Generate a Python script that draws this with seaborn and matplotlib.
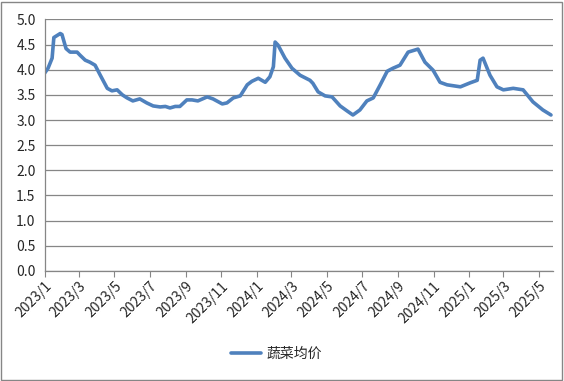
import pandas as pd
import numpy as np
import matplotlib
matplotlib.use('Agg')
import matplotlib.pyplot as plt
import matplotlib.dates as mdates
from matplotlib.patches import Rectangle
import seaborn as sns

# Datos (precio medio de verduras)
fechas = ['2023-01-01', '2023-01-07', '2023-01-14', '2023-01-17', '2023-01-28', '2023-01-31',
          '2023-02-07', '2023-02-14', '2023-02-26', '2023-03-03', '2023-03-12', '2023-03-20',
          '2023-03-29', '2023-04-07', '2023-04-19', '2023-04-27', '2023-05-06', '2023-05-15',
          '2023-05-23', '2023-06-02', '2023-06-14', '2023-06-26', '2023-07-07', '2023-07-19',
          '2023-07-28', '2023-08-05', '2023-08-14', '2023-08-22', '2023-09-03', '2023-09-12',
          '2023-09-22', '2023-10-08', '2023-10-18', '2023-11-03', '2023-11-11', '2023-11-22',
          '2023-12-04', '2023-12-16', '2023-12-24', '2024-01-04', '2024-01-16', '2024-01-24',
          '2024-01-30', '2024-02-02', '2024-02-07', '2024-02-19', '2024-03-02', '2024-03-16',
          '2024-04-02', '2024-04-07', '2024-04-16', '2024-04-28', '2024-05-10', '2024-05-24',
          '2024-06-05', '2024-06-15', '2024-06-27', '2024-07-09', '2024-07-20', '2024-08-01',
          '2024-08-13', '2024-08-23', '2024-09-04', '2024-09-18', '2024-10-05', '2024-10-17',
          '2024-10-31', '2024-11-12', '2024-11-24', '2024-12-17', '2025-01-03', '2025-01-15',
          '2025-01-20', '2025-01-25', '2025-02-06', '2025-02-18', '2025-03-01', '2025-03-18',
          '2025-04-04', '2025-04-21', '2025-05-08', '2025-05-22']
precio = [3.93, 4.03, 4.23, 4.64, 4.72, 4.70,
          4.42, 4.35, 4.35, 4.29, 4.19, 4.15,
          4.09, 3.89, 3.63, 3.58, 3.60, 3.50,
          3.44, 3.38, 3.42, 3.34, 3.28, 3.26,
          3.27, 3.24, 3.27, 3.27, 3.40, 3.40,
          3.38, 3.46, 3.42, 3.32, 3.34, 3.44,
          3.48, 3.70, 3.77, 3.83, 3.75, 3.86,
          4.06, 4.55, 4.49, 4.23, 4.03, 3.89,
          3.79, 3.73, 3.56, 3.48, 3.46, 3.28,
          3.18, 3.10, 3.20, 3.38, 3.44, 3.70,
          3.97, 4.03, 4.09, 4.35, 4.41, 4.15,
          3.99, 3.75, 3.70, 3.66, 3.74, 3.79,
          4.19, 4.23, 3.89, 3.66, 3.60, 3.63,
          3.60, 3.36, 3.20, 3.10]
serie = '蔬菜均价'

df = pd.DataFrame({'fecha': pd.to_datetime(fechas), serie: precio})

sns.set_style('white')
plt.rcParams['font.family'] = ['Noto Sans CJK SC', 'DejaVu Sans']

fig = plt.figure(figsize=(5.64, 3.81), dpi=100)
ax = fig.add_axes([0.079, 0.289, 0.901, 0.660])

sns.lineplot(data=df, x='fecha', y=serie, ax=ax, color='#4F81BD', linewidth=2.6, label=serie)

# Ejes
ax.set_ylim(0, 5.0)
ax.set_yticks(np.arange(0, 5.01, 0.5))
ax.yaxis.set_major_formatter(matplotlib.ticker.FormatStrFormatter('%.1f'))
ax.set_xlim(pd.Timestamp('2023-01-01'), pd.Timestamp('2025-05-25'))
ax.xaxis.set_major_locator(mdates.MonthLocator(bymonth=[1, 3, 5, 7, 9, 11]))
ax.xaxis.set_major_formatter(matplotlib.ticker.FuncFormatter(
    lambda v, p: f"{mdates.num2date(v).year}/{mdates.num2date(v).month}"))
ax.set_xlabel('')
ax.set_ylabel('')
ax.grid(axis='y', color='#868686', linewidth=0.9)
ax.set_axisbelow(True)
for s in ['top', 'right']:
    ax.spines[s].set_visible(False)
for s in ['left', 'bottom']:
    ax.spines[s].set_color('#868686')
    ax.spines[s].set_linewidth(0.9)
ax.tick_params(axis='x', bottom=True, length=4, color='#868686', labelsize=10, pad=2)
ax.tick_params(axis='y', left=False, labelsize=10, pad=3)
for lab in ax.get_xticklabels():
    lab.set_rotation(45)
    lab.set_ha('right')
    lab.set_rotation_mode('anchor')

# Leyenda abajo
ax.legend(loc='center', bbox_to_anchor=(0.49, 0.071), bbox_transform=fig.transFigure,
          frameon=False, fontsize=10, handlelength=2.2, handletextpad=0.4)

# Marco del grafico
fig.patches.append(Rectangle((0.002, 0.003), 0.995, 0.993, transform=fig.transFigure,
                             fill=False, edgecolor='#868686', linewidth=1))

fig.savefig('out.png', dpi=100)
